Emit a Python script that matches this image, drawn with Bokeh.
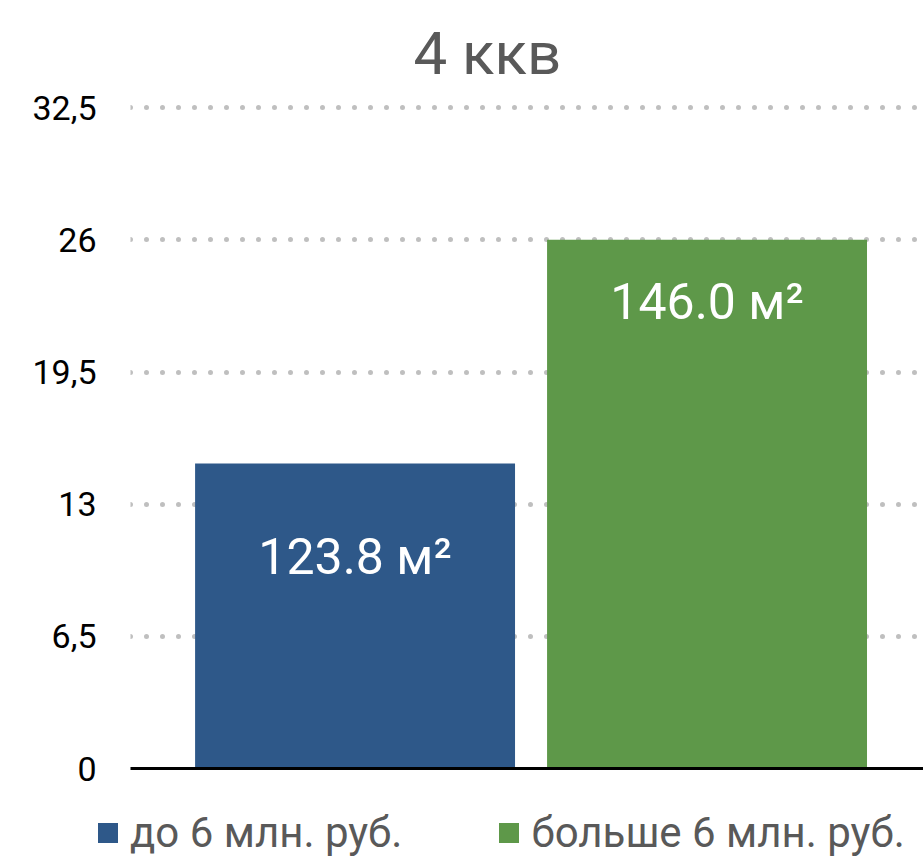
from bokeh.plotting import figure
from bokeh.layouts import column
from bokeh.models import ColumnDataSource, Range1d, FixedTicker, LabelSet, Legend, LegendItem
from bokeh.core.properties import value
from bokeh.embed import file_html
from bokeh.resources import INLINE

title_text = "4 ккв"
series_names = ["до 6 млн. руб.", "больше 6 млн. руб."]
series_values = [15, 26]
bar_labels = ["123.8 м²", "146.0 м²"]
series_colors = ["#2e5889", "#5e9849"]
y_ticks = [0, 6.5, 13, 19.5, 26, 32.5]
y_tick_labels = ["0", "6,5", "13", "19,5", "26", "32,5"]

FONT = "Roboto"

src = ColumnDataSource(dict(
    x=[1, 2],
    top=series_values,
    color=series_colors,
    label=bar_labels,
    name=series_names,
    yoff=[-93, -62],
))

p = figure(width=923, height=790, output_backend="svg", toolbar_location=None,
           x_range=Range1d(0.362, 2.615), y_range=Range1d(0, 33.0),
           min_border_left=130, min_border_right=0, min_border_top=97, min_border_bottom=22)
p.outline_line_color = None
p.frame_align = False

p.title.text = title_text
p.title.align = "left"
p.title.text_font = FONT
p.title.text_font_style = "normal"
p.title.text_font_size = "60px"
p.title.text_color = "#595959"
p.title.offset = 283
p.title.standoff = 18

r = p.vbar(x="x", top="top", width=0.909, color="color", source=src, line_color=None)

labels = LabelSet(x="x", y="top", text="label", y_offset="yoff", source=src,
                  text_align="center", text_baseline="middle", text_color="white",
                  text_font=value(FONT), text_font_size="50px")
p.add_layout(labels)

p.yaxis.ticker = FixedTicker(ticks=y_ticks)
p.yaxis.major_label_overrides = {t: l for t, l in zip(y_ticks, y_tick_labels)}
p.yaxis.axis_line_color = None
p.yaxis.major_tick_line_color = None
p.yaxis.minor_tick_line_color = None
p.yaxis.major_label_text_font = FONT
p.yaxis.major_label_text_font_size = "34px"
p.yaxis.major_label_text_color = "black"
p.yaxis.major_label_standoff = 28

p.xaxis.ticker = FixedTicker(ticks=[])
p.xaxis.major_tick_line_color = None
p.xaxis.minor_tick_line_color = None
p.xaxis.major_label_text_color = None
p.xaxis.axis_line_color = "black"
p.xaxis.axis_line_width = 3

p.xgrid.grid_line_color = None
p.ygrid.ticker = FixedTicker(ticks=y_ticks[1:])
p.ygrid.grid_line_color = "#bfbfbf"
p.ygrid.grid_line_width = 5
p.ygrid.grid_line_dash = "0 16"
p.ygrid.grid_line_cap = "round"

# legend strip below the chart (its bars lie outside its ranges; only the legend shows)
q = figure(width=923, height=72, output_backend="svg", toolbar_location=None,
           x_range=Range1d(100, 200), y_range=Range1d(100, 200),
           x_axis_location=None, y_axis_location=None,
           min_border_left=0, min_border_right=0, min_border_top=0, min_border_bottom=0)
q.frame_align = False
q.grid.visible = False
q.outline_line_color = None
rq = q.vbar(x="x", top="top", width=0.909, color="color", source=src, line_color=None)

items = [LegendItem(label=series_names[i], renderers=[rq], index=i) for i in range(2)]
leg = Legend(items=items, location=(95, 5), orientation="horizontal",
             border_line_color=None, background_fill_alpha=0, padding=0, margin=0,
             spacing=94, glyph_width=25, glyph_height=25, label_standoff=10,
             label_text_font=FONT, label_text_font_size="42px",
             label_text_color="#595959", label_height=42)
q.add_layout(leg, "center")

layout = column(p, q, spacing=0)
open("out.html", "w").write(file_html(layout, INLINE))
